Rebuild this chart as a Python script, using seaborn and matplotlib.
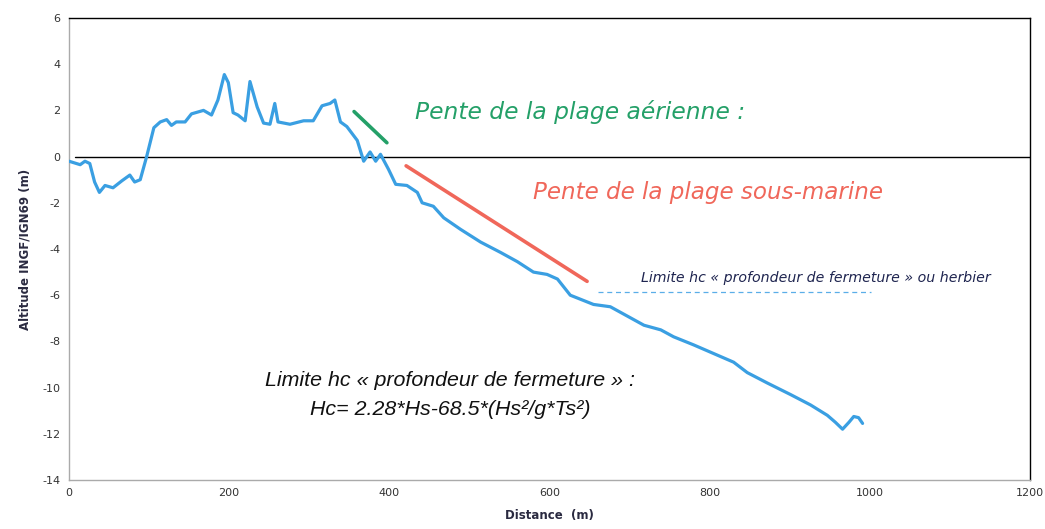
import matplotlib
matplotlib.use("Agg")
import matplotlib.pyplot as plt
import pandas as pd
import seaborn as sns

# profil (distance en m, altitude en m)
distance = [0, 14, 20, 26, 32, 38, 45, 55, 66, 76, 82, 89, 97, 106, 114, 122, 128,
            134, 145, 153, 168, 178, 186, 194, 199, 205, 211, 220, 226, 235, 243,
            251, 257, 261, 276, 293, 305, 316, 326, 332, 339, 347, 360, 368, 376,
            383, 389, 399, 408, 422, 435, 441, 455, 468, 489, 514, 539, 560, 580,
            597, 610, 626, 655, 676, 697, 718, 739, 755, 780, 810, 830, 847, 872,
            901, 926, 947, 957, 966, 974, 980, 986, 991]
altitude = [-0.2, -0.35, -0.2, -0.3, -1.1, -1.55, -1.25, -1.35, -1.05, -0.8, -1.1,
            -1.0, 0.0, 1.25, 1.5, 1.6, 1.35, 1.5, 1.5, 1.85, 2.0, 1.8, 2.45, 3.55,
            3.2, 1.9, 1.8, 1.55, 3.25, 2.15, 1.45, 1.4, 2.3, 1.5, 1.4, 1.55, 1.55,
            2.2, 2.3, 2.45, 1.5, 1.3, 0.7, -0.2, 0.2, -0.2, 0.1, -0.55, -1.2,
            -1.25, -1.55, -2.0, -2.15, -2.65, -3.15, -3.7, -4.15, -4.55, -5.0,
            -5.1, -5.3, -6.0, -6.4, -6.5, -6.9, -7.3, -7.5, -7.8, -8.15, -8.6,
            -8.9, -9.35, -9.8, -10.3, -10.75, -11.2, -11.5, -11.8, -11.5, -11.25,
            -11.3, -11.55]

# pentes et limite
pente_aerienne_x = [356, 397]
pente_aerienne_y = [1.95, 0.6]
pente_sous_marine_x = [421, 647]
pente_sous_marine_y = [-0.4, -5.4]
limite_hc_x = [660, 1001]
limite_hc_y = [-5.85, -5.85]

x_ticks = list(range(0, 1201, 200))
y_ticks = list(range(-14, 7, 2))

sns.set_style("white")
plt.rcParams['font.family'] = ['DejaVu Sans']
plt.rcParams['axes.unicode_minus'] = False

df = pd.DataFrame({'Distance': distance, 'Altitude': altitude})

fig = plt.figure(figsize=(10.45, 5.29), dpi=100)
ax = fig.add_axes([0.066, 0.0926, 0.9196, 0.8734])

ax.axhline(0, color='black', lw=1, xmin=0.006, zorder=1)
sns.lineplot(data=df, x='Distance', y='Altitude', ax=ax, color='#3a9fe2', lw=2.3,
             zorder=3)
ax.plot(pente_aerienne_x, pente_aerienne_y, color='#24a068', lw=2.6)
ax.plot(pente_sous_marine_x, pente_sous_marine_y, color='#f0675a', lw=2.6)
ax.plot(limite_hc_x, limite_hc_y, color='#5aaee8', lw=0.9, ls=(0, (4, 3)))

ax.text(432, 1.95, 'Pente de la plage aérienne :', color='#24a068', fontsize=16.8,
        style='italic', va='center')
ax.text(580, -1.55, 'Pente de la plage sous-marine', color='#f0675a',
        fontsize=16.6, style='italic', va='center')
ax.text(714, -5.25, 'Limite hc « profondeur de fermeture » ou herbier',
        color='#1f2550', fontsize=10.2, style='italic', va='center')
ax.text(476, -9.7, 'Limite hc « profondeur de fermeture » :', color='#111111',
        fontsize=15.4, style='italic', ha='center', va='center',
        family='Liberation Sans')
ax.text(476, -10.95, 'Hc= 2.28*Hs-68.5*(Hs²/g*Ts²)', color='#111111',
        fontsize=15.4, style='italic', ha='center', va='center',
        family='Liberation Sans')

ax.set_xlim(0, 1200)
ax.set_ylim(-14, 6)
ax.set_xticks(x_ticks)
ax.set_yticks(y_ticks)
ax.tick_params(labelsize=8, colors='#333333', length=0, pad=6)
ax.set_xlabel('Distance  (m)', fontsize=8.5, fontweight='bold', color='#2a2a40',
              labelpad=8)
ax.set_ylabel('Altitude INGF/IGN69 (m)', fontsize=8.5, fontweight='bold',
              color='#2a2a40', labelpad=8)

for side in ['left', 'bottom']:
    ax.spines[side].set_color('#aaaaaa')
    ax.spines[side].set_linewidth(1)
for side in ['top', 'right']:
    ax.spines[side].set_color('black')
    ax.spines[side].set_linewidth(1)

fig.savefig('out.png', dpi=100)
